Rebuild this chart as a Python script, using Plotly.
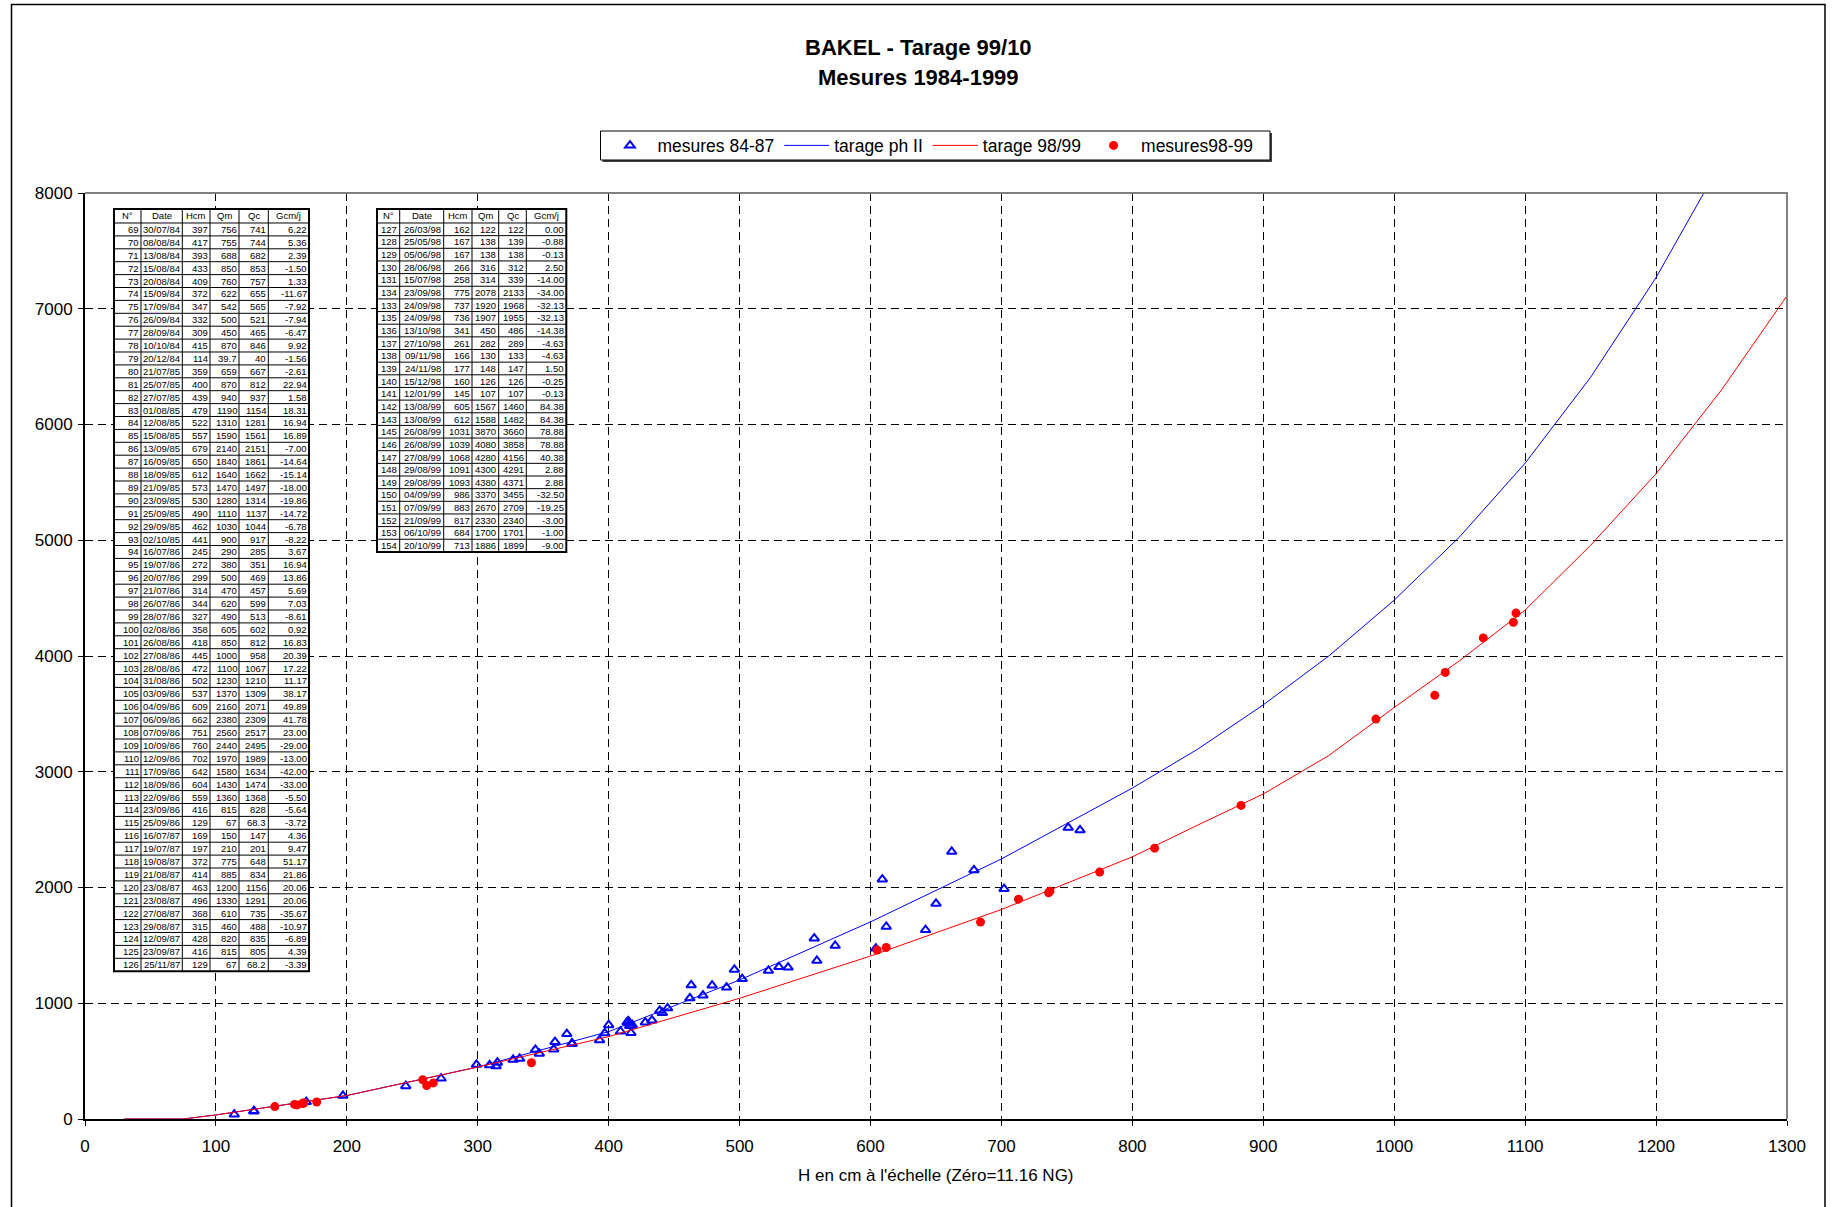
import plotly.graph_objects as go

# ---------------- Mesures 1984-1987 ----------------
num_8487 = list(range(69, 127))
date_8487 = [
    "30/07/84", "08/08/84", "13/08/84", "15/08/84", "20/08/84", "15/09/84", "17/09/84",
    "26/09/84", "28/09/84", "10/10/84", "20/12/84", "21/07/85", "25/07/85", "27/07/85",
    "01/08/85", "12/08/85", "15/08/85", "13/09/85", "16/09/85", "18/09/85", "21/09/85",
    "23/09/85", "25/09/85", "29/09/85", "02/10/85", "16/07/86", "19/07/86", "20/07/86",
    "21/07/86", "26/07/86", "28/07/86", "02/08/86", "26/08/86", "27/08/86", "28/08/86",
    "31/08/86", "03/09/86", "04/09/86", "06/09/86", "07/09/86", "10/09/86", "12/09/86",
    "17/09/86", "18/09/86", "22/09/86", "23/09/86", "25/09/86", "16/07/87", "19/07/87",
    "19/08/87", "21/08/87", "23/08/87", "23/08/87", "27/08/87", "29/08/87", "12/09/87",
    "23/09/87", "25/11/87",
]
h_8487 = [397, 417, 393, 433, 409, 372, 347, 332, 309, 415, 114, 359, 400, 439,
          479, 522, 557, 679, 650, 612, 573, 530, 490, 462, 441, 245, 272, 299,
          314, 344, 327, 358, 418, 445, 472, 502, 537, 609, 662, 751, 760, 702,
          642, 604, 559, 416, 129, 169, 197, 372, 414, 463, 496, 368, 315, 428,
          416, 129]
qm_8487 = [756, 755, 688, 850, 760, 622, 542, 500, 450, 870, 39.7, 659, 870, 940,
           1190, 1310, 1590, 2140, 1840, 1640, 1470, 1280, 1110, 1030, 900, 290, 380, 500,
           470, 620, 490, 605, 850, 1000, 1100, 1230, 1370, 2160, 2380, 2560, 2440, 1970,
           1580, 1430, 1360, 815, 67, 150, 210, 775, 885, 1200, 1330, 610, 460, 820,
           815, 67]
qc_8487 = [741, 744, 682, 853, 757, 655, 565, 521, 465, 846, 40, 667, 812, 937,
           1154, 1281, 1561, 2151, 1861, 1662, 1497, 1314, 1137, 1044, 917, 285, 351, 469,
           457, 599, 513, 602, 812, 958, 1067, 1210, 1309, 2071, 2309, 2517, 2495, 1989,
           1634, 1474, 1368, 828, 68.3, 147, 201, 648, 834, 1156, 1291, 735, 488, 835,
           805, 68.2]
g_8487 = [6.22, 5.36, 2.39, -1.50, 1.33, -11.67, -7.92, -7.94, -6.47, 9.92, -1.56, -2.61, 22.94, 1.58,
          18.31, 16.94, 16.89, -7.00, -14.64, -15.14, -18.00, -19.86, -14.72, -6.78, -8.22, 3.67, 16.94, 13.86,
          5.69, 7.03, -8.61, 0.92, 16.83, 20.39, 17.22, 11.17, 38.17, 49.89, 41.78, 23.00, -29.00, -13.00,
          -42.00, -33.00, -5.50, -5.64, -3.72, 4.36, 9.47, 51.17, 21.86, 20.06, 20.06, -35.67, -10.97, -6.89,
          4.39, -3.39]

# ---------------- Mesures 1998-1999 ----------------
num_9899 = [127, 128, 129, 130, 131, 134, 133, 135, 136, 137, 138, 139, 140,
            141, 142, 143, 145, 146, 147, 148, 149, 150, 151, 152, 153, 154]
date_9899 = ["26/03/98", "25/05/98", "05/06/98", "28/06/98", "15/07/98", "23/09/98", "24/09/98",
             "24/09/98", "13/10/98", "27/10/98", "09/11/98", "24/11/98", "15/12/98",
             "12/01/99", "13/08/99", "13/08/99", "26/08/99", "26/08/99", "27/08/99", "29/08/99",
             "29/08/99", "04/09/99", "07/09/99", "21/09/99", "06/10/99", "20/10/99"]
h_9899 = [162, 167, 167, 266, 258, 775, 737, 736, 341, 261, 166, 177, 160,
          145, 605, 612, 1031, 1039, 1068, 1091, 1093, 986, 883, 817, 684, 713]
qm_9899 = [122, 138, 138, 316, 314, 2078, 1920, 1907, 450, 282, 130, 148, 126,
           107, 1567, 1588, 3870, 4080, 4280, 4300, 4380, 3370, 2670, 2330, 1700, 1886]
qc_9899 = [122, 139, 138, 312, 339, 2133, 1968, 1955, 486, 289, 133, 147, 126,
           107, 1460, 1482, 3660, 3858, 4156, 4291, 4371, 3455, 2709, 2340, 1701, 1899]
g_9899 = [0.00, -0.88, -0.13, 2.50, -14.00, -34.00, -32.13, -32.13, -14.38, -4.63, -4.63, 1.50, -0.25,
          -0.13, 84.38, 84.38, 78.88, 78.88, 40.38, 2.88, 2.88, -32.50, -19.25, -3.00, -1.00, -9.00]

# ---------------- Courbes de tarage ----------------
h_tarage_ph2 = [30, 75, 100, 200, 300, 400, 500, 600, 700, 800, 850, 900, 950,
                1000, 1050, 1100, 1150, 1200, 1238]
q_tarage_ph2 = [0, 0, 35, 203, 449, 755, 1201, 1703, 2247, 2859, 3196, 3578, 4000,
                4483, 5030, 5666, 6408, 7270, 8030]
h_tarage_9899 = [30, 75, 100, 200, 300, 400, 500, 600, 700, 800, 850, 900, 950,
                 1000, 1050, 1100, 1150, 1200, 1250, 1300]
q_tarage_9899 = [0, 0, 35, 203, 449, 712, 1043, 1408, 1810, 2265, 2540, 2808, 3140,
                 3555, 3960, 4397, 4957, 5575, 6299, 7112]

table_header = ["N°", "Date", "Hcm", "Qm", "Qc", "Gcm/j"]
x_ticks = list(range(0, 1301, 100))
y_ticks = list(range(0, 8001, 1000))

# ---------------- Geometry (pixels) ----------------
W, H = 1832, 1207
ML, MR, MT, MB = 85, 45, 193, 88
PW, PH = W - ML - MR, H - MT - MB
FONT = "Arial, 'Liberation Sans', sans-serif"


def px(x):
    return (x - ML) / PW


def py(y):
    return (H - MB - y) / PH


fig = go.Figure()

fig.add_trace(go.Scatter(
    x=h_8487, y=qc_8487, mode="markers", name="mesures 84-87",
    marker=dict(symbol="triangle-up-open", size=8.5, color="#0000FF",
                line=dict(width=2, color="#0000FF")),
))
fig.add_trace(go.Scatter(
    x=h_tarage_ph2, y=q_tarage_ph2, mode="lines", name="tarage ph II",
    line=dict(color="#0000FF", width=1),
))
fig.add_trace(go.Scatter(
    x=h_tarage_9899, y=q_tarage_9899, mode="lines", name="tarage 98/99",
    line=dict(color="#FF0000", width=1),
))
fig.add_trace(go.Scatter(
    x=h_9899, y=qc_9899, mode="markers", name="mesures98-99",
    marker=dict(symbol="circle", size=9, color="#FF0000"),
))

shapes = []
annotations = []


def fmt_q(v):
    return f"{v:g}"


def add_table(x_edges, y_top, header_h, row_h, rows):
    n = len(rows)
    y_edges = [y_top, y_top + header_h] + [y_top + header_h + row_h * (i + 1) for i in range(n)]
    y_bot = y_edges[-1]
    shapes.append(dict(type="rect", xref="paper", yref="paper", layer="above",
                       x0=px(x_edges[0]), x1=px(x_edges[-1]), y0=py(y_bot), y1=py(y_top),
                       fillcolor="white", line=dict(width=0)))
    path = ""
    for x in x_edges[1:-1]:
        path += f"M{px(x):.6f},{py(y_top):.6f}L{px(x):.6f},{py(y_bot):.6f}"
    for y in y_edges[1:-1]:
        path += f"M{px(x_edges[0]):.6f},{py(y):.6f}L{px(x_edges[-1]):.6f},{py(y):.6f}"
    shapes.append(dict(type="path", xref="paper", yref="paper", layer="above", path=path,
                       line=dict(color="#000000", width=1)))
    shapes.append(dict(type="rect", xref="paper", yref="paper", layer="above",
                       x0=px(x_edges[0]), x1=px(x_edges[-1]), y0=py(y_bot), y1=py(y_top),
                       line=dict(color="#000000", width=2)))
    # header
    for j, t in enumerate(table_header):
        annotations.append(dict(
            x=px((x_edges[j] + x_edges[j + 1]) / 2), y=py(y_top + header_h / 2),
            xref="paper", yref="paper", text=t, showarrow=False,
            xanchor="center", yanchor="middle", borderpad=0,
            font=dict(size=9.5, color="#000000", family=FONT)))
    for i, row in enumerate(rows):
        yc = (y_edges[i + 1] + y_edges[i + 2]) / 2
        for j, t in enumerate(row):
            annotations.append(dict(
                x=px(x_edges[j + 1] - 1.5), y=py(yc),
                xref="paper", yref="paper", text=t, showarrow=False,
                xanchor="right", yanchor="middle", borderpad=0,
                font=dict(size=9.5, color="#000000", family=FONT)))


rows_8487 = [[str(n), d, str(h), fmt_q(qm), fmt_q(qc), f"{g:.2f}"]
             for n, d, h, qm, qc, g in zip(num_8487, date_8487, h_8487, qm_8487, qc_8487, g_8487)]
rows_9899 = [[str(n), d, str(h), fmt_q(qm), fmt_q(qc), f"{g:.2f}"]
             for n, d, h, qm, qc, g in zip(num_9899, date_9899, h_9899, qm_9899, qc_9899, g_9899)]

add_table([114, 141, 182.3, 210, 239, 268.3, 309], 209, 14, 12.9, rows_8487)
add_table([377, 399.7, 443.7, 472, 498.7, 526.3, 566.3], 209, 14, 12.65, rows_9899)

# plot-area border (top and right), outer frame
shapes.append(dict(type="path", xref="paper", yref="paper", layer="above",
                   path="M0,1L1,1L1,0", line=dict(color="#808080", width=2)))
shapes.append(dict(type="rect", xref="paper", yref="paper", layer="above",
                   x0=px(11.5), x1=px(1825), y0=py(1230), y1=py(4.5),
                   line=dict(color="#000000", width=1.5)))

# legend box with a small drop shadow
LEG_X0, LEG_X1, LEG_Y0, LEG_Y1 = 600.5, 1270, 131, 160
shapes.append(dict(type="rect", xref="paper", yref="paper", layer="above",
                   x0=px(LEG_X0 + 2), x1=px(LEG_X1 + 2), y0=py(LEG_Y1 + 2), y1=py(LEG_Y0 + 2),
                   fillcolor="#404040", line=dict(width=0)))
shapes.append(dict(type="rect", xref="paper", yref="paper", layer="above",
                   x0=px(LEG_X0), x1=px(LEG_X1), y0=py(LEG_Y1), y1=py(LEG_Y0),
                   fillcolor="white", line=dict(color="#000000", width=1)))

# titles
annotations.append(dict(x=px(918), y=py(48), xref="paper", yref="paper",
                        text="<b>BAKEL - Tarage 99/10</b>", showarrow=False,
                        xanchor="center", yanchor="middle",
                        font=dict(size=22, color="#000000", family=FONT)))
annotations.append(dict(x=px(918), y=py(78), xref="paper", yref="paper",
                        text="<b>Mesures 1984-1999</b>", showarrow=False,
                        xanchor="center", yanchor="middle",
                        font=dict(size=22, color="#000000", family=FONT)))
annotations.append(dict(x=0.5, y=py(1175), xref="paper", yref="paper",
                        text="H en cm à l'échelle (Zéro=11.16 NG)", showarrow=False,
                        xanchor="center", yanchor="middle",
                        font=dict(size=17, color="#000000", family=FONT)))

axis_common = dict(
    showgrid=True, gridcolor="#000000", gridwidth=1, griddash="8px,5px",
    zeroline=False, showline=True, linecolor="#000000", linewidth=2,
    ticks="outside", ticklen=5, tickwidth=1, tickcolor="#000000",
    tickfont=dict(size=17, color="#000000", family=FONT),
)

fig.update_layout(
    width=W, height=H,
    margin=dict(l=ML, r=MR, t=MT, b=MB, pad=0),
    paper_bgcolor="white", plot_bgcolor="white",
    font=dict(family=FONT, color="#000000"),
    xaxis=dict(range=[0, 1300], tickvals=x_ticks, ticklabelstandoff=6, **axis_common),
    yaxis=dict(range=[0, 8000], tickvals=y_ticks, ticklabelstandoff=2, **axis_common),
    showlegend=True,
    legend=dict(orientation="h", x=px(602.5), y=py((LEG_Y0 + LEG_Y1) / 2),
                xanchor="left", yanchor="middle", itemwidth=45,
                bgcolor="rgba(0,0,0,0)", borderwidth=0,
                font=dict(size=17.5, color="#000000", family=FONT)),
    shapes=shapes,
    annotations=annotations,
)

fig.write_html("out.html")
